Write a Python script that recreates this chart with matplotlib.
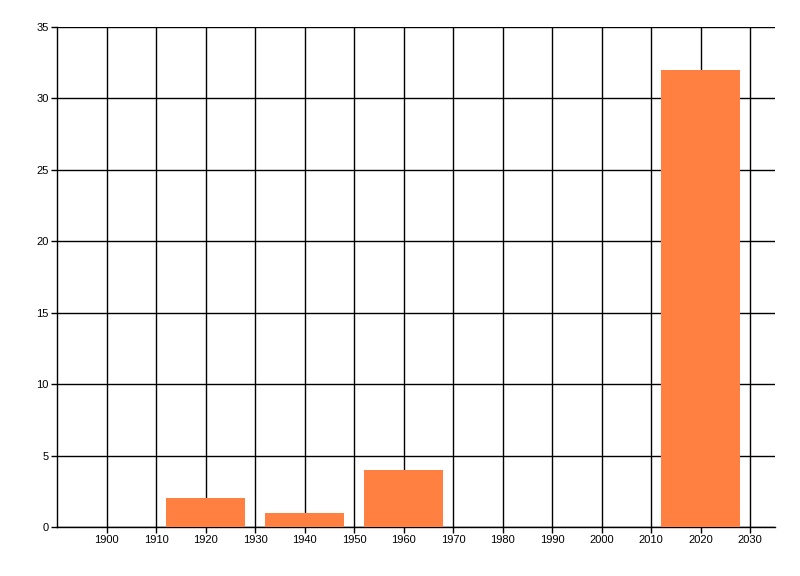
import matplotlib
matplotlib.use('Agg')
from matplotlib import pyplot as plt

years = [1920, 1940, 1960, 2020]
counts = [2, 1, 4, 32]
xticks = list(range(1900, 2031, 10))
yticks = list(range(0, 36, 5))

plt.rcParams['font.family'] = ['Liberation Sans', 'DejaVu Sans']

fig = plt.figure(figsize=(8, 5.76), dpi=100)
ax = fig.add_axes([57 / 800, 1 - 527 / 576, (775 - 57) / 800, (527 - 27) / 576])

ax.bar(years, counts, width=16, color='#ff8040', zorder=3)

ax.set_xlim(1890, 2035)
ax.set_ylim(0, 35)
ax.set_xticks(xticks)
ax.set_yticks(yticks)
ax.grid(True, color='black', linewidth=1, zorder=1)
ax.set_axisbelow(True)

for side in ['top', 'right']:
    ax.spines[side].set_visible(False)
for side in ['left', 'bottom']:
    ax.spines[side].set_linewidth(1)
    ax.spines[side].set_color('black')

ax.tick_params(axis='both', length=4, width=1, labelsize=8, pad=2, colors='black')

plt.savefig('out.png', dpi=100)
